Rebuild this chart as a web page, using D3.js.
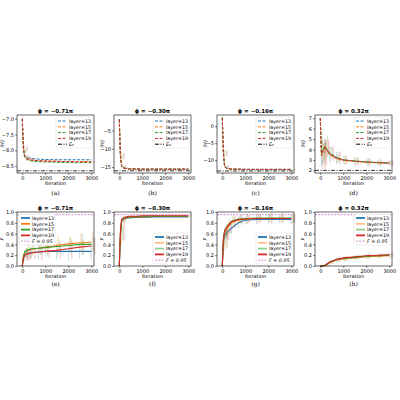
<!DOCTYPE html><html><head><meta charset="utf-8">
<script src="https://cdn.jsdelivr.net/npm/d3@7"></script>
<style>body{margin:0;background:#fff}text{font-family:"DejaVu Sans",sans-serif}</style></head><body>
<svg id="c" width="400" height="400"></svg>
<script>
const iters=[0,50,100,200,400,700,1000,1500,2000,2500,3000];
const layers=["layer=13","layer=15","layer=17","layer=19"];
const colors=["#1f77b4","#ff7f0e","#2ca02c","#d62728"];
const titles=["ϕ = −0.71π","ϕ = −0.30π","ϕ = −0.16π","ϕ = 0.32π"];
const captions=["(a)","(b)","(c)","(d)","(e)","(f)","(g)","(h)"];
const E_a=[[-7.0,-7.9,-8.15,-8.22,-8.26,-8.28,-8.29,-8.30,-8.30,-8.30,-8.30],
[-7.0,-7.95,-8.2,-8.27,-8.31,-8.33,-8.34,-8.35,-8.36,-8.36,-8.36],
[-7.0,-8.0,-8.22,-8.3,-8.34,-8.36,-8.37,-8.38,-8.39,-8.39,-8.39],
[-7.0,-7.95,-8.2,-8.27,-8.31,-8.33,-8.34,-8.35,-8.36,-8.37,-8.37]];
const E_b=[[-2,-12,-14.6,-15.2,-15.4,-15.45,-15.5,-15.5,-15.5,-15.5,-15.5],
[-2,-12,-14.7,-15.25,-15.45,-15.5,-15.55,-15.55,-15.55,-15.55,-15.55],
[-2,-12,-14.8,-15.3,-15.5,-15.55,-15.6,-15.6,-15.6,-15.6,-15.6],
[-2,-12,-14.7,-15.3,-15.5,-15.55,-15.6,-15.6,-15.6,-15.6,-15.6]];
const E_c=[[2.5,-8,-11.8,-12.4,-12.6,-12.65,-12.7,-12.7,-12.7,-12.7,-12.7],
[2.5,-8,-11.9,-12.5,-12.65,-12.7,-12.75,-12.75,-12.75,-12.75,-12.75],
[2.5,-8,-12.0,-12.5,-12.7,-12.75,-12.8,-12.8,-12.8,-12.8,-12.8],
[2.5,-8,-11.9,-12.5,-12.65,-12.7,-12.75,-12.8,-12.8,-12.8,-12.8]];
const E_d=[[7,3.6,3.8,4.3,3.6,3.2,3.0,2.9,2.8,2.75,2.7],
[7,3.5,3.7,4.2,3.5,3.1,2.95,2.85,2.78,2.72,2.68],
[7,3.6,3.9,4.3,3.7,3.25,3.0,2.9,2.8,2.75,2.72],
[7,3.4,3.7,4.2,3.6,3.2,3.0,2.88,2.8,2.74,2.7]];
const E0=[-8.65,-16.0,-13.2,2.0];
const Edom=[[-8.72,-6.88],[-16.6,-0.8],[-13.8,3.3],[1.75,7.3]];
const Eticks=[[-8.5,-8.0,-7.5,-7.0],[-15,-10,-5],[-10,-5,0],[2,3,4,5,6,7]];
const Eerr=[[0,0.1,0.05,0.03,0.03,0.02,0.02,0.02,0.02,0.02,0.02],[0,1,0.4,0.2,0.1,0.1,0.1,0.1,0.1,0.1,0.1],[0,1,0.4,0.2,0.1,0.1,0.1,0.1,0.1,0.1,0.1],[0,1.5,1.2,1.0,0.8,0.6,0.5,0.45,0.4,0.35,0.3]];
const F_e=[[0,0.15,0.2,0.23,0.25,0.26,0.27,0.27,0.27,0.27,0.27],
[0,0.18,0.25,0.28,0.31,0.33,0.35,0.38,0.41,0.43,0.44],
[0,0.18,0.25,0.29,0.32,0.33,0.34,0.36,0.38,0.40,0.40],
[0,0.14,0.2,0.22,0.24,0.26,0.27,0.29,0.32,0.35,0.37]];
const F_f=[[0,0.55,0.82,0.87,0.89,0.9,0.9,0.91,0.91,0.91,0.91],
[0,0.6,0.84,0.88,0.9,0.91,0.91,0.92,0.92,0.92,0.92],
[0,0.6,0.85,0.89,0.91,0.91,0.92,0.92,0.92,0.92,0.92],
[0,0.65,0.86,0.9,0.92,0.92,0.93,0.93,0.93,0.93,0.93]];
const F_g=[[0,0.45,0.55,0.62,0.7,0.8,0.85,0.86,0.86,0.86,0.86],
[0,0.5,0.62,0.7,0.8,0.85,0.87,0.88,0.88,0.88,0.88],
[0,0.5,0.64,0.73,0.83,0.87,0.88,0.89,0.89,0.89,0.89],
[0,0.5,0.63,0.72,0.82,0.86,0.87,0.88,0.88,0.88,0.88]];
const F_h=[[0,0,0,0.01,0.07,0.12,0.14,0.16,0.18,0.19,0.2],
[0,0,0,0.01,0.06,0.11,0.13,0.15,0.17,0.18,0.19],
[0,0,0,0.01,0.07,0.12,0.14,0.16,0.18,0.19,0.2],
[0,0,0,0.01,0.07,0.12,0.15,0.17,0.19,0.2,0.21]];
const Ferr=[[0,0.05,0.1,0.15,0.12,0.15,0.15,0.18,0.18,0.2,0.18],[0,0.2,0.05,0.02,0.02,0.01,0.01,0.01,0.01,0.01,0.01],[0,0.2,0.15,0.15,0.12,0.1,0.1,0.1,0.1,0.1,0.1],[0,0,0,0.02,0.04,0.05,0.05,0.05,0.05,0.05,0.05]];
const Fticks=[0,0.2,0.4,0.6,0.8,1.0];
const Fref=0.95;
const xTicks=[0,1000,2000,3000];

const svg=d3.select("#c");
const lefts=[17,114,217,315], W=77;
const rows=[{top:115,bot:173},{top:212,bot:266}];
const Edata=[E_a,E_b,E_c,E_d], Fdata=[F_e,F_f,F_g,F_h];
const legPos=["ur","ur","ur","ur","ul","lr","lr","ur"];

function panel(i,row,data,ydom,yt,ref,yl,err,p){
 const L=lefts[i],R=rows[row];
 const x=d3.scaleLinear().domain([-230,3120]).range([L,L+W]);
 const y=d3.scaleLinear().domain(ydom).range([R.bot,R.top]);
 const g=svg.append("g");
 const top=row===0;
 const line=d3.line().x((d,k)=>x(iters[k])).y(d=>y(d));
 data.forEach((s,j)=>{
   s.forEach((v,k)=>{ if(k>0&&err[k]>0){const e=err[k]*(0.7+0.3*((j+k)%3)/2);
     g.append("line").attr("x1",x(iters[k])+j*1.2).attr("x2",x(iters[k])+j*1.2).attr("y1",y(v-e)).attr("y2",y(v+e)).attr("stroke",colors[j]).attr("stroke-width",0.5).attr("opacity",0.6);}});
   g.append("path").attr("d",line(s)).attr("fill","none").attr("stroke",colors[j])
    .attr("stroke-width",top?1:1.1).attr("stroke-dasharray",top?"3,1.5":null);
 });
 g.append("line").attr("x1",L).attr("x2",L+W).attr("y1",y(ref)).attr("y2",y(ref))
  .attr("stroke",top?"#000":"#bf5fbf").attr("stroke-width",top?0.8:0.7).attr("stroke-dasharray",top?"4,1.5,1,1.5":"2,1.2");
 g.append("rect").attr("x",L).attr("y",R.top).attr("width",W).attr("height",R.bot-R.top).attr("fill","none").attr("stroke","#000").attr("stroke-width",0.6);
 const ax=g.append("g").attr("transform",`translate(0,${R.bot})`).call(d3.axisBottom(x).tickValues(xTicks).tickSize(2).tickPadding(1).tickFormat(d3.format("d")));
 const ay=g.append("g").attr("transform",`translate(${L},0)`).call(d3.axisLeft(y).tickValues(yt).tickSize(2).tickPadding(1).tickFormat(top?d3.format(i==0?".1f":"d"):d3.format(".1f")));
 [ax,ay].forEach(a=>{a.select(".domain").remove();a.selectAll("text").attr("font-size",5).style("font-family","DejaVu Sans");a.selectAll("line").attr("stroke-width",0.5);});
 g.append("text").attr("x",L+W/2).attr("y",R.bot+12).attr("text-anchor","middle").attr("font-size",5).text("Iteration");
 g.append("text").attr("transform",`translate(${L-(i==0?13:10)},${(R.top+R.bot)/2}) rotate(-90)`).attr("text-anchor","middle").attr("font-size",5).attr("font-style","italic").text(yl);
 g.append("text").attr("x",L+W/2).attr("y",R.top-2).attr("text-anchor","middle").attr("font-size",5.5).attr("font-weight","bold").text(titles[i]);
 g.append("text").attr("x",L+W/2).attr("y",R.bot+(top?22:20)).attr("text-anchor","middle").attr("font-size",6).style("font-family","DejaVu Serif").text(captions[p]);
 const lw=36,lh=31,pos=legPos[p];
 const lx=pos.endsWith("r")?L+W-lw-2:L+2, ly=pos.startsWith("u")?R.top+2:R.bot-lh-2;
 g.append("rect").attr("x",lx).attr("y",ly).attr("width",lw).attr("height",lh).attr("fill","#fff").attr("fill-opacity",0.85).attr("stroke","#ddd").attr("stroke-width",0.5).attr("rx",1.5);
 const labs=layers.concat([top?"E₀":"F = 0.95"]);
 labs.forEach((t,k)=>{const yy=ly+4+k*5.8;
   const isRef=k===4;
   g.append("line").attr("x1",lx+2).attr("x2",lx+11).attr("y1",yy).attr("y2",yy)
    .attr("stroke",isRef?(top?"#000":"#bf5fbf"):colors[k]).attr("stroke-width",top?1:(isRef?0.7:1.8))
    .attr("opacity",(!top&&!isRef&&p>4&&(k==1||k==2))?0.5:1)
    .attr("stroke-dasharray",isRef?(top?"4,1.5,1,1.5":"2,1.2"):(top?"3,1.5":null));
   g.append("text").attr("x",lx+13).attr("y",yy+1.8).attr("font-size",4.8).attr("font-style",isRef?"italic":null).text(t);
 });
}
Edata.forEach((d,i)=>panel(i,0,d,Edom[i],Eticks[i],E0[i],"⟨H⟩",Eerr[i],i));
Fdata.forEach((d,i)=>panel(i,1,d,[0,1.0],Fticks,Fref,"F",Ferr[i],i+4));
</script></body></html>
